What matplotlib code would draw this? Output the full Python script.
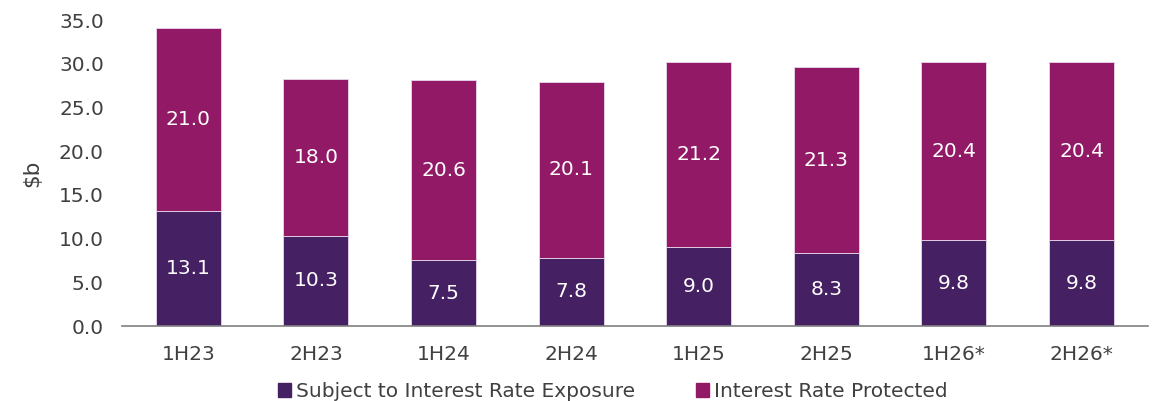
import matplotlib
matplotlib.use("Agg")
import matplotlib.pyplot as plt
from matplotlib.patches import Patch

categories = ["1H23", "2H23", "1H24", "2H24", "1H25", "2H25", "1H26*", "2H26*"]
exposure = [13.1, 10.3, 7.5, 7.8, 9.0, 8.3, 9.8, 9.8]
protected = [21.0, 18.0, 20.6, 20.1, 21.2, 21.3, 20.4, 20.4]
yticks = [0, 5, 10, 15, 20, 25, 30, 35]

c_exp = "#452063"
c_pro = "#921966"
txt = "#404040"

plt.rcParams['font.family'] = ['DejaVu Sans']

fig = plt.figure(figsize=(11.56, 4.01), dpi=100)
ax = fig.add_axes([0.1055, 0.187, 0.8875, 0.763])

x = range(len(categories))
ax.bar(x, exposure, width=0.51, color=c_exp, edgecolor="#e8d8ec", linewidth=0.6)
ax.bar(x, protected, width=0.51, bottom=exposure, color=c_pro, edgecolor="#e8d8ec", linewidth=0.6)

fs = 14.5
for i in x:
    ax.text(i, exposure[i] / 2, f"{exposure[i]:.1f}", ha="center", va="center",
            color="white", fontsize=fs)
    ax.text(i, exposure[i] + protected[i] / 2, f"{protected[i]:.1f}", ha="center",
            va="center", color="white", fontsize=fs)

ax.set_xlim(-0.52, len(categories) - 0.48)
ax.set_ylim(0, 35)
ax.set_yticks(yticks)
ax.set_yticklabels([f"{v:.1f}" for v in yticks])
ax.set_xticks(list(x))
ax.set_xticklabels(categories)
ax.tick_params(axis="both", length=0, labelsize=fs, colors=txt)
ax.tick_params(axis="x", pad=14)
ax.tick_params(axis="y", pad=13)
for s in ["top", "right", "left"]:
    ax.spines[s].set_visible(False)
ax.spines["bottom"].set_color("#808080")
ax.spines["bottom"].set_linewidth(1.2)
ax.set_ylabel("$b", fontsize=15.5, color=txt, labelpad=12)

handles = [Patch(color=c_exp, label="Subject to Interest Rate Exposure"),
           Patch(color=c_pro, label="Interest Rate Protected")]
fig.legend(handles=handles, loc="lower center", bbox_to_anchor=(0.53, -0.045), ncol=2,
           frameon=False, fontsize=fs, handlelength=0.65, handleheight=0.75,
           handletextpad=0.25, columnspacing=3.0, labelcolor=txt)

fig.savefig("out.png", dpi=100)
